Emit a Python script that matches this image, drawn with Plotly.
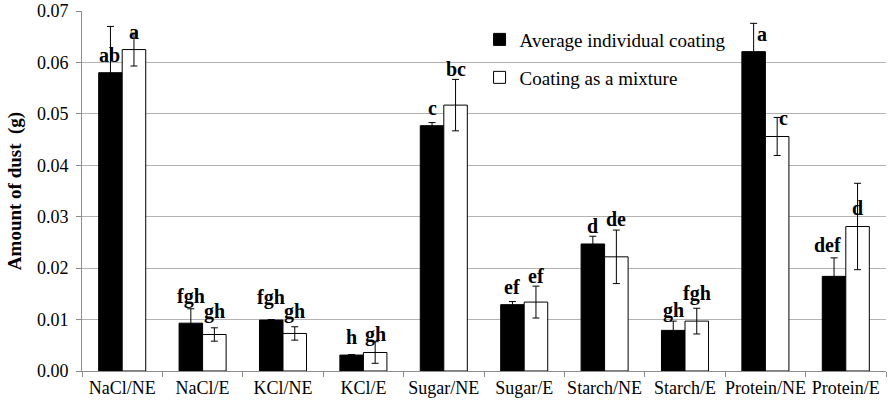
import plotly.graph_objects as go

categories = ["NaCl/NE", "NaCl/E", "KCl/NE", "KCl/E", "Sugar/NE", "Sugar/E",
              "Starch/NE", "Starch/E", "Protein/NE", "Protein/E"]
avg_individual = [0.0580, 0.0093, 0.0099, 0.0031, 0.0477, 0.0129, 0.0247, 0.0079, 0.0621, 0.0184]
avg_individual_err = [0.0090, 0.0028, 0.0001, 0.0001, 0.0006, 0.0006, 0.0015, 0.0018, 0.0055, 0.0036]
mixture = [0.0625, 0.0071, 0.0073, 0.0036, 0.0517, 0.0134, 0.0222, 0.0097, 0.0456, 0.0281]
mixture_err = [0.0032, 0.0013, 0.0013, 0.0021, 0.0050, 0.0031, 0.0052, 0.0025, 0.0037, 0.0084]
letters_individual = ["ab", "fgh", "fgh", "h", "c", "ef", "d", "gh", "a", "def"]
letters_mixture = ["a", "gh", "gh", "gh", "bc", "ef", "de", "fgh", "c", "d"]
# small manual nudges (px) for letter labels, as placed in the original
lift_individual = [0, 9, 5, 0, 0, 0, 0, 2, 0, 13]
lift_mixture = [0, 5, 4, 0, 18, 8, 20, 10, 0, 0]
dx_individual = [-1, 0, 0, 0, 0, 0, 0, 0, 8, -7]
dx_mixture = [0, 0, 0, 0, 0, 0, 0, 0, 6, 0]

FONT = "Liberation Serif"

fig = go.Figure()
fig.add_trace(go.Bar(
    x=categories, y=avg_individual, name="Average individual coating", legend="legend",
    marker=dict(color="black", line=dict(color="black", width=1)),
    error_y=dict(type="data", array=avg_individual_err, color="black", thickness=1, width=3.5),
))
fig.add_trace(go.Bar(
    x=categories, y=mixture, name="Coating as a mixture", legend="legend2",
    marker=dict(color="white", line=dict(color="black", width=1)),
    error_y=dict(type="data", array=mixture_err, color="black", thickness=1, width=3.5),
))

bar_offset = 0.146  # fraction of category width from center to bar center
for i, c in enumerate(categories):
    fig.add_annotation(x=i - bar_offset, y=avg_individual[i], text="<b>%s</b>" % letters_individual[i],
                       showarrow=False, yanchor="middle", xanchor="center",
                       yshift=18 + lift_individual[i], xshift=dx_individual[i],
                       font=dict(family=FONT, size=20, color="black"))
    fig.add_annotation(x=i + bar_offset, y=mixture[i], text="<b>%s</b>" % letters_mixture[i],
                       showarrow=False, yanchor="middle", xanchor="center",
                       yshift=18 + lift_mixture[i], xshift=dx_mixture[i],
                       font=dict(family=FONT, size=20, color="black"))

leg_common = dict(xanchor="left", yanchor="top", bgcolor="rgba(0,0,0,0)",
                  font=dict(family=FONT, size=19, color="black"), itemwidth=30)
fig.update_layout(
    width=888, height=402,
    margin=dict(l=82, r=2, t=11, b=31),
    paper_bgcolor="white", plot_bgcolor="white",
    barmode="group", bargap=0.415, bargroupgap=0,
    font=dict(family=FONT, size=18, color="black"),
    showlegend=True,
    legend=dict(x=0.4945, y=0.9735, **leg_common),
    legend2=dict(x=0.4945, y=0.868, **leg_common),
)
fig.update_xaxes(
    type="category", range=[-0.5, 9.5], showgrid=False,
    showline=True, linecolor="#8c8c8c", linewidth=1,
    ticks="outside", tickson="boundaries", ticklen=5, tickcolor="#8c8c8c",
    tickangle=0, automargin=False,
    tickfont=dict(family=FONT, size=18, color="black"),
)
fig.update_yaxes(
    range=[0, 0.07], dtick=0.01, tickformat=".2f",
    showgrid=True, gridcolor="#b3b3b3", gridwidth=1,
    showline=True, linecolor="#8c8c8c", linewidth=1,
    ticks="outside", ticklen=5, tickcolor="#8c8c8c", ticklabelstandoff=4,
    tickfont=dict(family=FONT, size=18, color="black"),
    title=dict(text="<b>Amount of dust  (g)</b>", font=dict(family=FONT, size=19, color="black"), standoff=10),
    zeroline=False,
)

fig.write_html("out.html")
